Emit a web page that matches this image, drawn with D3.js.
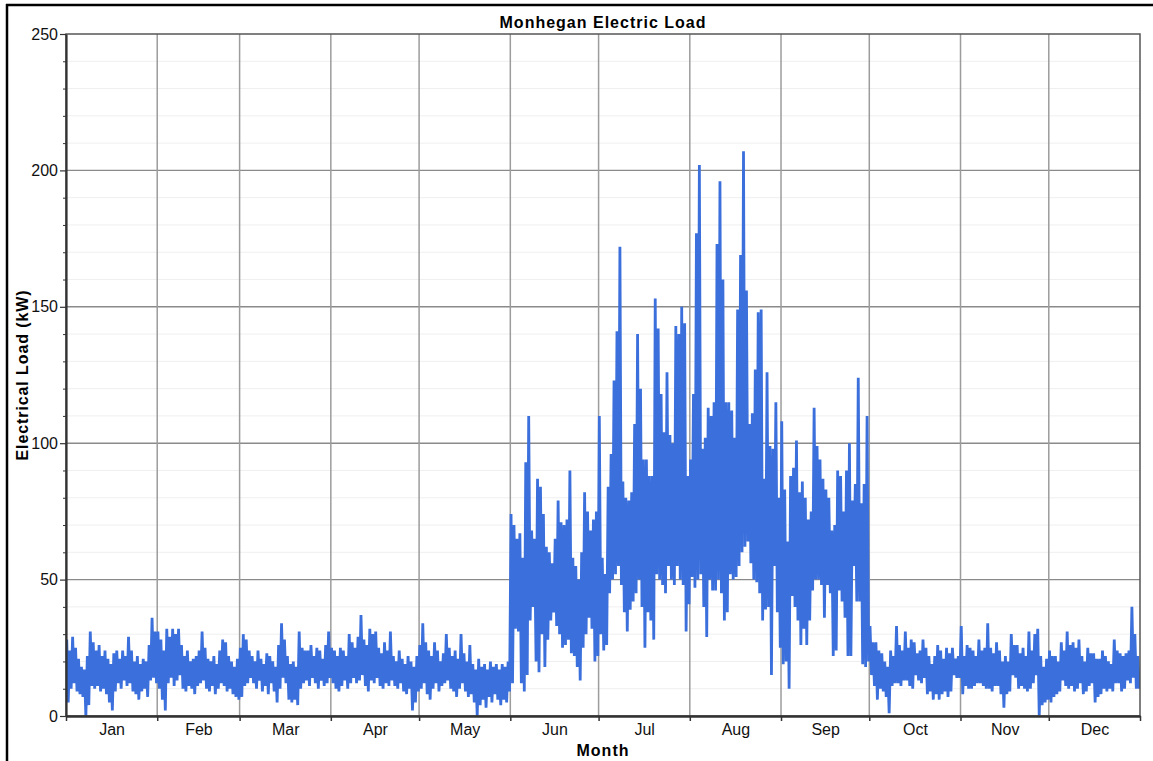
<!DOCTYPE html>
<html>
<head>
<meta charset="utf-8">
<title>Monhegan Electric Load</title>
<script src="https://cdn.jsdelivr.net/npm/d3@7/dist/d3.min.js"></script>
<style>
  html, body { margin: 0; padding: 0; background: #fff; }
  svg { display: block; font-family: "Liberation Sans", Arial, sans-serif; }
</style>
</head>
<body>
<svg id="chart" width="1153" height="761"></svg>
<script>
// Month names and lengths (non-leap year, day-of-year axis)
const monthNames = ["Jan", "Feb", "Mar", "Apr", "May", "Jun", "Jul", "Aug", "Sep", "Oct", "Nov", "Dec"];
const monthDays = [31, 28, 31, 30, 31, 30, 31, 31, 30, 31, 30, 31];
const yTicks = [0, 50, 100, 150, 200, 250];

// Daily peak load (kW), one line per month
const dailyPeakKW = [
  28,24,29,25,21,18,17,22,31,27,24,26,22,24,21,19,23,24,21,24,22,29,24,20,22,19,21,20,26,36,31,
  31,28,24,32,29,32,30,32,26,22,24,20,21,22,24,31,25,21,20,22,19,24,28,27,22,20,18,21,
  25,30,28,24,22,20,24,21,19,23,22,20,18,26,34,28,22,19,20,18,31,25,24,24,26,22,25,24,21,26,31,
  25,24,22,25,24,22,30,27,25,29,37,28,26,32,30,31,25,23,27,24,31,22,20,24,21,19,22,20,18,22,
  26,34,27,24,22,27,24,20,23,30,25,22,24,21,30,23,20,26,19,17,21,18,19,17,20,18,19,17,19,18,20,
  74,70,65,67,58,93,110,68,65,87,84,74,62,60,56,65,79,71,70,72,90,58,55,50,60,82,75,68,72,75,
  110,58,52,84,96,123,141,172,86,80,79,82,107,140,120,94,94,88,88,153,142,118,104,126,103,100,143,140,150,144,88,
  94,118,177,202,98,102,113,110,115,173,196,160,115,115,112,102,149,169,207,156,107,111,127,148,149,87,126,99,98,115,80,
  108,83,64,88,91,101,82,86,80,72,75,113,99,94,87,83,80,68,70,90,88,75,90,100,79,85,124,78,85,110,
  33,27,27,24,23,20,18,24,22,33,26,24,31,25,28,27,23,24,28,25,22,19,22,26,24,21,25,23,25,21,22,
  33,22,26,25,24,22,28,24,25,34,25,23,27,24,20,22,20,30,26,26,23,25,22,31,24,30,32,22,18,21,
  24,22,22,20,27,24,31,26,27,25,28,22,20,25,23,23,21,21,24,22,20,19,28,24,23,22,23,24,40,30,22
];

// Daily minimum load (kW), one line per month
const dailyLowKW = [
  5,10,12,9,8,7,0,4,11,10,11,9,10,8,5,2,9,12,10,13,11,12,9,8,6,9,10,7,13,14,12,
  10,6,2,12,14,11,13,15,10,9,11,10,8,11,12,13,10,9,11,8,10,12,11,9,10,8,7,6,
  7,11,12,14,12,10,13,9,11,8,12,9,5,10,14,12,6,5,6,4,10,12,13,11,14,12,10,13,11,12,14,
  12,10,9,11,13,10,12,14,12,13,15,11,9,13,12,14,11,10,12,11,13,11,10,12,9,8,10,2,5,9,
  10,12,8,6,10,12,9,11,12,13,10,9,7,10,12,9,7,8,5,0,4,6,3,7,5,8,6,4,6,5,9,
  12,32,31,12,9,15,35,40,20,16,30,18,28,35,38,33,30,25,26,28,23,22,18,13,25,30,36,32,20,22,
  30,24,26,45,50,52,55,48,38,31,39,42,45,50,40,25,38,35,28,52,50,48,45,55,50,48,55,50,48,31,41,
  51,47,50,52,40,29,50,46,46,50,45,35,38,52,50,51,55,60,62,64,56,50,49,45,35,39,40,15,55,38,25,
  19,20,10,44,40,35,26,32,26,35,46,50,50,48,36,48,45,22,24,46,42,36,22,22,55,42,42,19,18,20,
  15,11,6,10,9,7,1,11,12,12,11,13,13,11,10,15,13,12,14,8,9,6,8,6,8,9,7,9,15,14,14,
  8,11,10,10,11,12,12,11,10,10,9,11,11,8,3,8,9,15,14,10,11,10,9,10,12,15,0,4,5,6,
  5,7,8,9,13,11,10,11,9,10,12,8,9,11,12,5,7,8,10,9,10,9,12,12,9,10,13,12,14,10,10
];

const W = 1153, H = 761;
const margin = { left: 66, top: 34, right: 1140, bottom: 716 };
const totalDays = d3.sum(monthDays);

const svg = d3.select("#chart");
svg.append("rect").attr("width", W).attr("height", H).attr("fill", "#fff");

const x = d3.scaleLinear().domain([0, totalDays]).range([margin.left, margin.right]);
const y = d3.scaleLinear().domain([0, 250]).range([margin.bottom, margin.top]);

// Month boundaries and label positions
const monthStarts = [0];
monthDays.forEach(n => monthStarts.push(monthStarts[monthStarts.length - 1] + n));
const monthMids = monthNames.map((m, i) => (monthStarts[i] + monthStarts[i + 1]) / 2);

// Minor horizontal grid every 10 kW
const minorTicks = d3.range(10, 250, 10).filter(v => v % 50 !== 0);
svg.append("g").selectAll("line").data(minorTicks).join("line")
  .attr("x1", margin.left).attr("x2", margin.right)
  .attr("y1", d => y(d)).attr("y2", d => y(d))
  .attr("stroke", "#efefef").attr("stroke-width", 1);

// Major horizontal grid
svg.append("g").selectAll("line").data(yTicks.slice(1, -1)).join("line")
  .attr("x1", margin.left).attr("x2", margin.right)
  .attr("y1", d => y(d)).attr("y2", d => y(d))
  .attr("stroke", "#8a8a8a").attr("stroke-width", 1.4);

// Vertical month grid
svg.append("g").selectAll("line").data(monthStarts.slice(1, -1)).join("line")
  .attr("x1", d => x(d)).attr("x2", d => x(d))
  .attr("y1", margin.top).attr("y2", margin.bottom)
  .attr("stroke", "#9c9c9c").attr("stroke-width", 1.5);

// Load series: each day traced peak then low
const points = [];
dailyPeakKW.forEach((p, i) => {
  points.push([i + 0.25, p]);
  points.push([i + 0.75, dailyLowKW[i]]);
});

svg.append("clipPath").attr("id", "plotClip")
  .append("rect")
  .attr("x", margin.left).attr("y", margin.top)
  .attr("width", margin.right - margin.left).attr("height", margin.bottom - margin.top);

const line = d3.line().x(d => x(d[0])).y(d => y(d[1]));
svg.append("path")
  .datum(points)
  .attr("clip-path", "url(#plotClip)")
  .attr("fill", "none")
  .attr("stroke", "#3b6fdc")
  .attr("stroke-width", 2.8)
  .attr("stroke-linejoin", "bevel")
  .attr("d", line);

// Plot frame
svg.append("rect")
  .attr("x", margin.left).attr("y", margin.top)
  .attr("width", margin.right - margin.left).attr("height", margin.bottom - margin.top)
  .attr("fill", "none").attr("stroke", "#555").attr("stroke-width", 1.5);

// Y axis
const yAxis = svg.append("g")
  .attr("transform", `translate(${margin.left},0)`)
  .call(d3.axisLeft(y).tickValues(yTicks).tickSize(6).tickPadding(2).tickSizeOuter(0));
yAxis.select(".domain").attr("stroke", "#333").attr("stroke-width", 2.2);
yAxis.selectAll(".tick line").attr("stroke", "#333").attr("stroke-width", 1.2);
yAxis.selectAll(".tick text").attr("font-size", 16).attr("fill", "#111")
  .attr("font-family", "'Liberation Sans', Arial, sans-serif");

const yMinor = svg.append("g")
  .attr("transform", `translate(${margin.left},0)`)
  .call(d3.axisLeft(y).tickValues(minorTicks).tickSize(3).tickFormat("").tickSizeOuter(0));
yMinor.select(".domain").remove();
yMinor.selectAll(".tick line").attr("stroke", "#333");

// X axis: month boundary ticks
const xAxis = svg.append("g")
  .attr("transform", `translate(0,${margin.bottom})`)
  .call(d3.axisBottom(x).tickValues(monthStarts).tickSize(5).tickFormat("").tickSizeOuter(0));
xAxis.select(".domain").attr("stroke", "#333").attr("stroke-width", 2.5);
xAxis.selectAll(".tick line").attr("stroke", "#333").attr("stroke-width", 1.5);

// X axis: month names centred in each month
const xLabels = svg.append("g")
  .attr("transform", `translate(0,${margin.bottom})`)
  .call(d3.axisBottom(x).tickValues(monthMids).tickSize(0).tickPadding(8)
    .tickFormat((d, i) => monthNames[i]));
xLabels.select(".domain").remove();
xLabels.selectAll(".tick text").attr("font-size", 16).attr("fill", "#111")
  .attr("font-family", "'Liberation Sans', Arial, sans-serif");

// Titles
svg.append("text")
  .attr("x", 603).attr("y", 28)
  .attr("text-anchor", "middle")
  .attr("font-size", 16).attr("font-weight", "bold").attr("letter-spacing", 1)
  .attr("fill", "#000")
  .text("Monhegan Electric Load");

svg.append("text")
  .attr("x", 603).attr("y", 756)
  .attr("text-anchor", "middle")
  .attr("font-size", 16).attr("font-weight", "bold").attr("letter-spacing", 1)
  .attr("fill", "#000")
  .text("Month");

svg.append("text")
  .attr("transform", "translate(28,375) rotate(-90)")
  .attr("text-anchor", "middle")
  .attr("font-size", 16).attr("font-weight", "bold").attr("letter-spacing", 0.9)
  .attr("fill", "#000")
  .text("Electrical Load (kW)");

// Outer frame (top and left edges)
svg.append("line").attr("x1", 6).attr("x2", W).attr("y1", 5).attr("y2", 5)
  .attr("stroke", "#000").attr("stroke-width", 2.5);
svg.append("line").attr("x1", 7).attr("x2", 7).attr("y1", 4).attr("y2", H)
  .attr("stroke", "#000").attr("stroke-width", 2.5);
</script>
</body>
</html>
